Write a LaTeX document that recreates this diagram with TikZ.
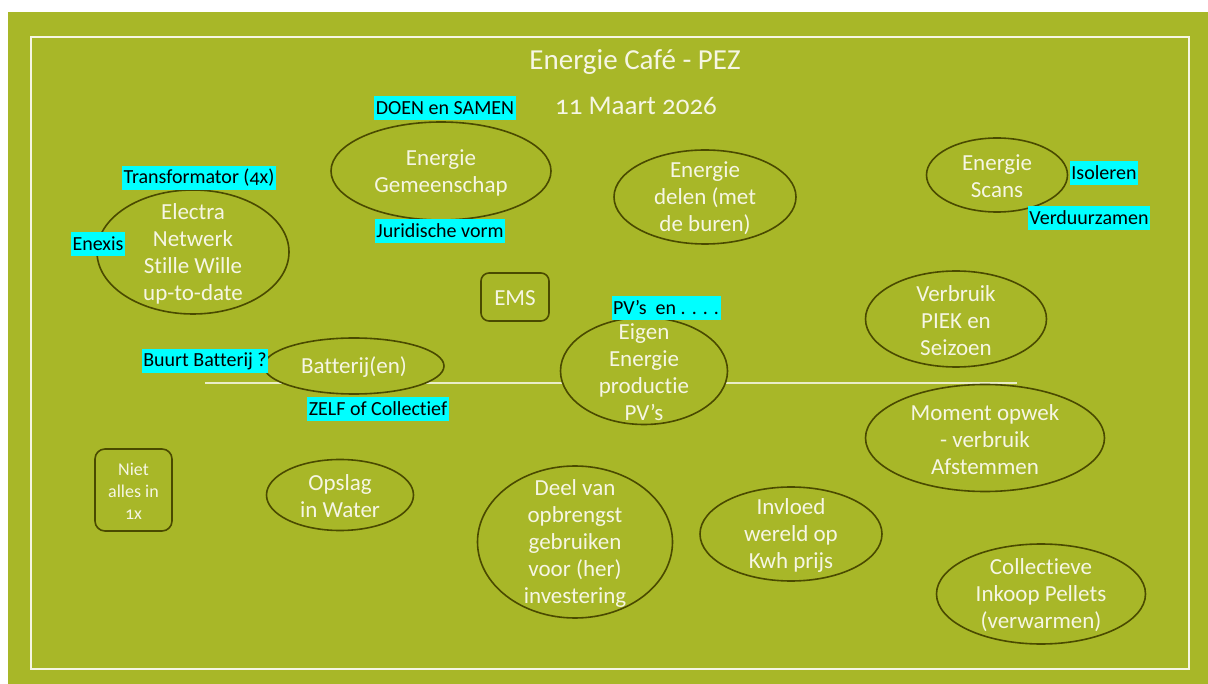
\documentclass[tikz,border=0pt]{standalone}
\usepackage{fontspec}
\setmainfont{Carlito}[Numbers=OldStyle,Ligatures=NoCommon]
\usetikzlibrary{shapes.geometric}
\definecolor{bggreen}{RGB}{168,183,40}
\definecolor{edge}{RGB}{74,74,0}
\definecolor{pale}{RGB}{246,246,228}
\definecolor{hl}{RGB}{0,255,255}
\tikzset{
  blob/.style={ellipse,draw=edge,line width=1.6pt,fill=bggreen,inner sep=0pt},
  rbox/.style={rectangle,rounded corners=8pt,draw=edge,line width=1.6pt,fill=bggreen,inner sep=0pt},
  txt/.style={text=pale,align=center,font=\fontsize{23}{27}\selectfont,inner sep=0pt,yshift=-1.5pt},
  tag/.style={fill=hl,text=black,font=\fontsize{20}{22}\selectfont,inner xsep=1.5pt,inner ysep=0pt,minimum height=24pt,anchor=center},
  ttl/.style={text=pale,inner sep=0pt,yshift=-2pt}
}
\begin{document}
\begin{tikzpicture}[x=1pt,y=-1pt]
\useasboundingbox (0,0) rectangle (1208,684);
\fill[white] (0,0) rectangle (1208,684);
\fill[bggreen] (8,12) rectangle (1208,684);
\draw[pale,line width=1.4pt] (31,37) rectangle (1189,669);
\coordinate (hlA) at (205,383);
\coordinate (hlB) at (1017,383);
\draw[pale!85!bggreen,line width=1.6pt] (hlA) -- (hlB);
% title
\node[ttl,font=\fontsize{29}{30}\selectfont] (title) at (635,60) {Energie Café - PEZ};
\node[ttl,font=\fontsize{27}{30}\selectfont] (date) at (636,104) {11 Maart 2026};
% ellipses
\node[blob,minimum width=192pt,minimum height=124pt] (electra) at (193,252) {};
\node[txt] (electraT) at (electra) {Electra\\Netwerk\\Stille Wille\\up-to-date};
\node[blob,minimum width=220pt,minimum height=98pt] (gem) at (441,171) {};
\node[txt] (gemT) at (gem) {Energie\\Gemeenschap};
\node[blob,minimum width=182pt,minimum height=94pt] (delen) at (705,197) {};
\node[txt] (delenT) at (delen) {Energie\\delen (met\\de buren)};
\node[blob,minimum width=141pt,minimum height=74pt] (scans) at (997,175) {};
\node[txt] (scansT) at (scans) {Energie\\Scans};
\node[rbox,minimum width=68pt,minimum height=48pt] (ems) at (515,297) {};
\node[txt] (emsT) at (ems) {EMS};
\node[blob,minimum width=181pt,minimum height=96pt] (verbruik) at (956,319) {};
\node[txt] (verbruikT) at (verbruik) {Verbruik\\PIEK en\\Seizoen};
\node[blob,minimum width=180pt,minimum height=56pt] (batt) at (354,366) {};
\node[txt] (battT) at (batt) {Batterij(en)};
\node[blob,minimum width=167pt,minimum height=107pt] (eigen) at (644,371) {};
\node[txt] (eigenT) at (eigen) {Eigen\\Energie\\productie\\PV’s};
\node[blob,minimum width=239pt,minimum height=107pt] (moment) at (985,438) {};
\node[txt] (momentT) at (moment) {Moment opwek\\- verbruik\\Afstemmen};
\node[rbox,rounded corners=10pt,minimum width=77pt,minimum height=82pt] (niet) at (133.5,490) {};
\node[txt,font=\fontsize{18}{22}\selectfont] (nietT) at (niet) {Niet\\alles in\\1x};
\node[blob,minimum width=147pt,minimum height=71pt] (opslag) at (340,495) {};
\node[txt] (opslagT) at (opslag) {Opslag\\in Water};
\node[blob,minimum width=195pt,minimum height=152pt] (deel) at (575,542) {};
\node[txt] (deelT) at (deel) {Deel van\\opbrengst\\gebruiken\\voor (her)\\investering};
\node[blob,minimum width=182pt,minimum height=94pt] (invloed) at (791,534) {};
\node[txt] (invloedT) at (invloed) {Invloed\\wereld op\\Kwh prijs};
\node[blob,minimum width=209pt,minimum height=100pt] (coll) at (1041,594) {};
\node[txt] (collT) at (coll) {Collectieve\\Inkoop Pellets\\(verwarmen)};
% highlighted tags
\node[tag] (doen) at (445,108) {DOEN en SAMEN};
\node[tag] (trafo) at (199,178) {Transformator (4x)};
\node[tag] (enexis) at (98,244) {Enexis};
\node[tag] (jur) at (440,231) {Juridische vorm};
\node[tag] (isol) at (1104,173) {Isoleren};
\node[tag] (verd) at (1089,218) {Verduurzamen};
\node[tag] (pv) at (666,308) {PV’s\ \ en . . . .};
\node[tag] (buurt) at (205,361) {Buurt Batterij ?};
\node[tag] (zelf) at (378,409) {ZELF of Collectief};
\end{tikzpicture}
\end{document}
